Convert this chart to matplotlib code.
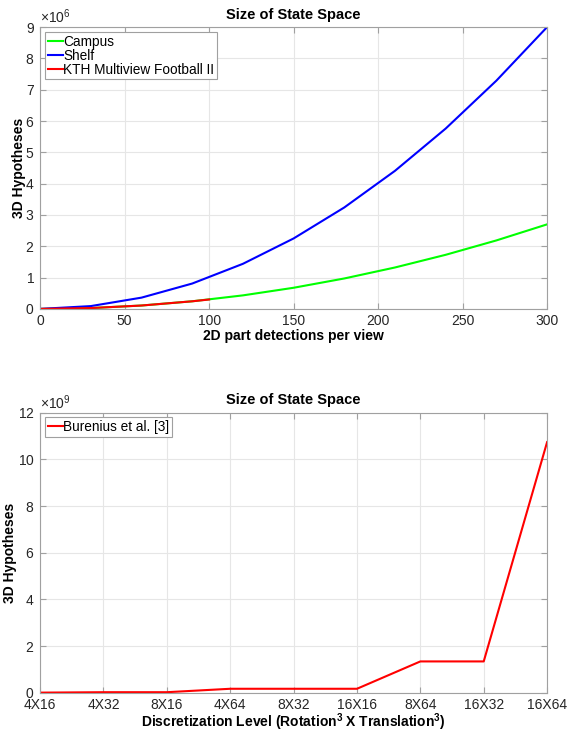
import matplotlib
matplotlib.use("Agg")
from matplotlib import pyplot as plt
from matplotlib.ticker import ScalarFormatter

plt.rcParams["font.family"] = ["Liberation Sans", "DejaVu Sans"]
plt.rcParams["font.size"] = 10
plt.rcParams["mathtext.fontset"] = "custom"
plt.rcParams["mathtext.rm"] = "Liberation Sans"
plt.rcParams["mathtext.bf"] = "Liberation Sans:bold"

# top panel: hypotheses vs. detections per view
detections = [0, 30, 60, 90, 120, 150, 180, 210, 240, 270, 300]
shelf = [0, 0.09e6, 0.36e6, 0.81e6, 1.44e6, 2.25e6, 3.24e6, 4.41e6, 5.76e6, 7.29e6, 9.0e6]
campus = [0, 0.027e6, 0.108e6, 0.243e6, 0.432e6, 0.675e6, 0.972e6, 1.323e6, 1.728e6, 2.187e6, 2.7e6]
kth_x = [0, 30, 60, 90, 100]
kth = [0, 0.027e6, 0.108e6, 0.243e6, 0.3e6]

# bottom panel: discretization levels
levels = ["4X16", "4X32", "8X16", "4X64", "8X32", "16X16", "8X64", "16X32", "16X64"]
burenius = [0.0026e9, 0.021e9, 0.021e9, 0.168e9, 0.168e9, 0.168e9, 1.34e9, 1.34e9, 10.74e9]

TICK_C = "#262626"
FRAME_C = "#a0a0a0"


def style(ax, power):
    ax.grid(True, color="#e6e6e6", lw=0.8)
    ax.set_axisbelow(True)
    for s in ax.spines.values():
        s.set_color(FRAME_C)
        s.set_linewidth(0.8)
    ax.tick_params(direction="in", top=True, right=True, colors=FRAME_C,
                   labelcolor=TICK_C, labelsize=10, length=4, width=0.8)
    ax.tick_params(axis="y", pad=4)
    fmt = ScalarFormatter(useMathText=True)
    fmt.set_powerlimits((power, power))
    ax.yaxis.set_major_formatter(fmt)
    ax.yaxis.get_offset_text().set_color(TICK_C)
    ax.yaxis.get_offset_text().set_fontsize(10)


def legend(ax):
    leg = ax.legend(loc="upper left", fancybox=False, handlelength=1.1, handletextpad=0.05,
                    borderpad=0.2, labelspacing=0.0, borderaxespad=0.35, framealpha=1,
                    fontsize=9.8)
    leg.get_frame().set_edgecolor(FRAME_C)
    leg.get_frame().set_linewidth(0.8)


fig = plt.figure(figsize=(5.69, 7.32), dpi=100)

ax1 = fig.add_axes([0.0705, 0.578, 0.891, 0.385])
ax1.plot(detections, campus, color=(0, 1, 0), lw=1.5, label="Campus")
ax1.plot(detections, shelf, color=(0, 0, 1), lw=1.5, label="Shelf")
ax1.plot(kth_x, kth, color=(1, 0, 0), lw=1.5, label="KTH Multiview Football II")
ax1.set_xlim(0, 300)
ax1.set_ylim(0, 9e6)
ax1.set_xticks(range(0, 301, 50))
ax1.set_yticks([i * 1e6 for i in range(10)])
style(ax1, 6)
ax1.set_title("Size of State Space", fontweight="bold", fontsize=10.5, pad=6)
ax1.set_xlabel("2D part detections per view", fontweight="bold", labelpad=1)
ax1.set_ylabel("3D Hypotheses", fontweight="bold")
ax1.yaxis.set_label_coords(-0.028, 0.5)
legend(ax1)

ax2 = fig.add_axes([0.0705, 0.0537, 0.891, 0.3825])
ax2.plot(range(len(levels)), burenius, color=(1, 0, 0), lw=1.5, label="Burenius et al. [3]")
ax2.set_xlim(0, len(levels) - 1)
ax2.set_ylim(0, 12e9)
ax2.set_xticks(range(len(levels)))
ax2.set_xticklabels(levels)
ax2.set_yticks([i * 1e9 for i in range(0, 13, 2)])
style(ax2, 9)
ax2.set_title("Size of State Space", fontweight="bold", fontsize=10.5, pad=6)
ax2.set_xlabel(r"Discretization Level (Rotation$^{\mathbf{3}}$ X Translation$^{\mathbf{3}}$)",
               fontweight="bold", labelpad=0)
ax2.set_ylabel("3D Hypotheses", fontweight="bold")
ax2.yaxis.set_label_coords(-0.045, 0.5)
legend(ax2)

fig.savefig("out.png", dpi=100)
